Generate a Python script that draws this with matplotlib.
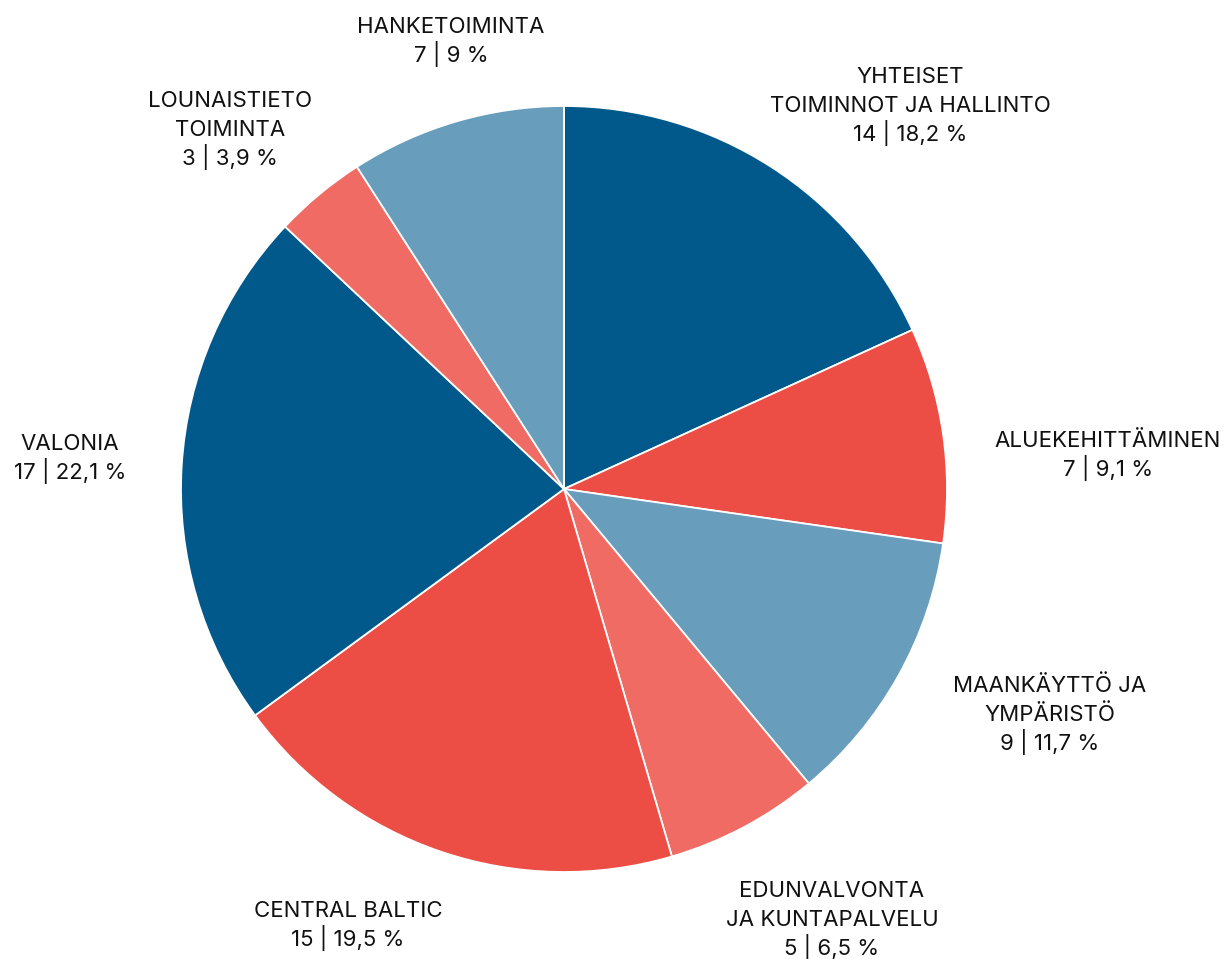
import matplotlib
matplotlib.use("Agg")
import matplotlib.pyplot as plt

categories = ["YHTEISET\nTOIMINNOT JA HALLINTO", "ALUEKEHITTÄMINEN", "MAANKÄYTTÖ JA\nYMPÄRISTÖ",
              "EDUNVALVONTA\nJA KUNTAPALVELU", "CENTRAL BALTIC", "VALONIA",
              "LOUNAISTIETO\nTOIMINTA", "HANKETOIMINTA"]
values = [14, 7, 9, 5, 15, 17, 3, 7]
percent_labels = ["18,2", "9,1", "11,7", "6,5", "19,5", "22,1", "3,9", "9"]

colors = ["#01598B", "#EC4E45", "#689DBC", "#F06B63", "#EC4E45", "#01598B", "#F06B63", "#689DBC"]

# label layout: x centre and first-line baseline (pixels, y from top)
label_x = [910, 1108, 1050, 832, 348, 70, 230, 451]
label_base = [83, 447, 692, 897, 917, 450, 107, 33]
LINE_H = 29

W, H = 1226, 959
fig = plt.figure(figsize=(W / 100, H / 100), dpi=100)
ax = fig.add_axes([0, 0, 1, 1])
ax.axis("off")

ax.pie(values, colors=colors, startangle=90, counterclock=False,
       center=(564, H - 489), radius=383,
       wedgeprops=dict(edgecolor="white", linewidth=1.3))
ax.set_xlim(0, W)
ax.set_ylim(0, H)
ax.set_aspect("equal")

for cat, v, p, x, yb in zip(categories, values, percent_labels, label_x, label_base):
    lines = cat.split("\n") + [f"{v} | {p} %"]
    for i, line in enumerate(lines):
        ax.text(x, H - (yb + i * LINE_H), line, ha="center", va="baseline",
                fontsize=16, family=["Inter", "DejaVu Sans"], color="#111111")

fig.savefig("out.png", dpi=100)
